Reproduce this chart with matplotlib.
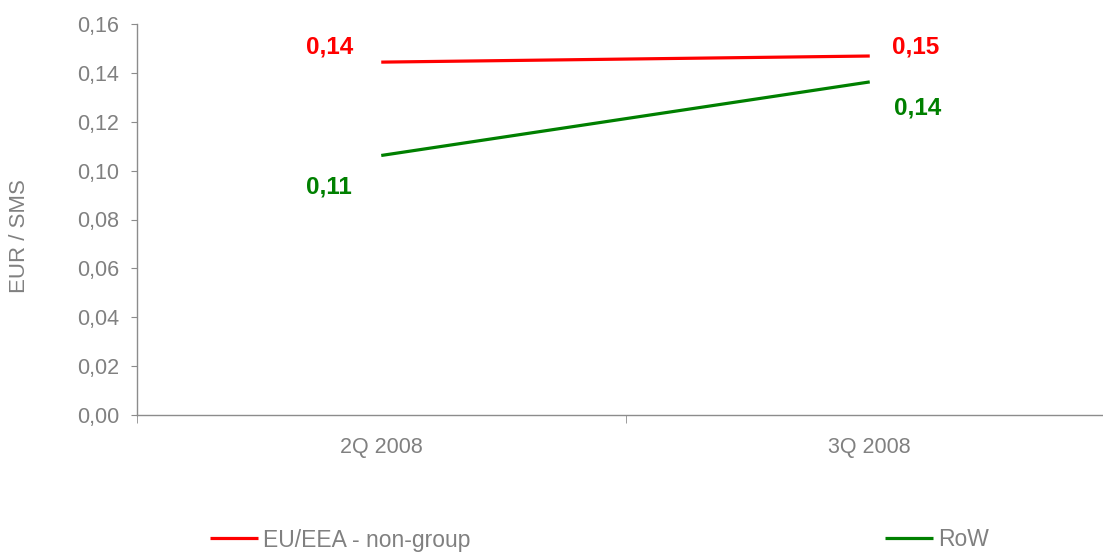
import numpy as np
import matplotlib
matplotlib.use("Agg")
import matplotlib.pyplot as plt
from matplotlib.ticker import FuncFormatter, FixedLocator

plt.rcParams['font.family'] = ['Liberation Sans', 'DejaVu Sans']

# data
quarters = ['2Q 2008', '3Q 2008']
eu_eea = [0.1444, 0.1469]
row = [0.1062, 0.1363]
series_names = ['EU/EEA - non-group', 'RoW']
series_colors = ['#FF0000', '#008000']

gray = '#808080'
axis_gray = '#8c8c8c'

fig = plt.figure(figsize=(11.03, 5.52), dpi=100)
ax = fig.add_axes([137 / 1103, 1 - 415 / 552, (1114 - 137) / 1103, (415 - 24) / 552])

x = np.arange(len(quarters))
l1, = ax.plot(x, eu_eea, color=series_colors[0], lw=2.3, solid_capstyle='butt')
l2, = ax.plot(x, row, color=series_colors[1], lw=2.3, solid_capstyle='butt')

# value labels: left of the first point, right of the last point
def fmt(v):
    return f"{v:.2f}".replace('.', ',')

label_offsets = [[(-52, 15), (46, 9)], [(-52, -32), (48, -26)]]
for vals, col, offs in zip([eu_eea, row], series_colors, label_offsets):
    for xi, v, (dx, dy) in zip(x, vals, offs):
        ax.annotate(fmt(v), (xi, v), xytext=(dx, dy), textcoords='offset pixels',
                    ha='center', va='center', color=col, fontsize=17.5, fontweight='bold')

ax.set_xlim(-0.5, 1.5)
ax.set_ylim(0, 0.16)
ax.set_yticks(np.arange(0, 0.161, 0.02))
ax.yaxis.set_major_formatter(FuncFormatter(lambda v, p: f"{v:.2f}".replace('.', ',')))

ax.set_xticks(x)
ax.set_xticklabels(quarters)
ax.xaxis.set_minor_locator(FixedLocator([-0.5, 0.5, 1.5]))
ax.tick_params(axis='x', which='major', length=0, pad=16, labelsize=15.5, labelcolor=gray)
ax.tick_params(axis='x', which='minor', length=6, color=axis_gray, direction='out')
ax.tick_params(axis='y', length=4, color=axis_gray, direction='out', pad=9,
               labelsize=15.5, labelcolor=gray)

for s in ['top', 'right']:
    ax.spines[s].set_visible(False)
for s in ['left', 'bottom']:
    ax.spines[s].set_color(axis_gray)
    ax.spines[s].set_linewidth(1.0)

fig.text(20 / 1103, 1 - 236 / 552, 'EUR / SMS', color=gray, fontsize=16,
         rotation=90, ha='center', va='center')

fig.legend([l1, l2], series_names, loc='center left',
           bbox_to_anchor=(210 / 1103, 1 - 540 / 552), ncol=2, frameon=False,
           fontsize=16.5, labelcolor=gray, handlelength=2.1, handletextpad=0.2,
           columnspacing=18.1, borderpad=0, borderaxespad=0)

fig.savefig('out.png', dpi=100)
